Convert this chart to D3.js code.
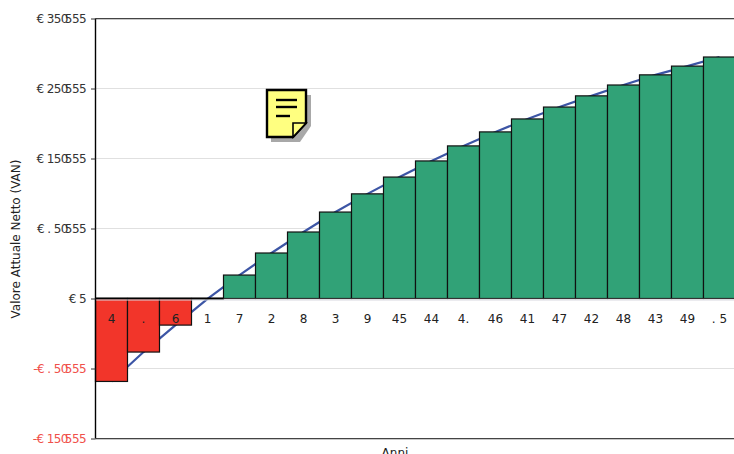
<!DOCTYPE html>
<html><head><meta charset="utf-8">
<script src="https://cdn.jsdelivr.net/npm/d3@7"></script>
<style>html,body{margin:0;background:#fff}svg{display:block}text{font-family:"DejaVu Sans",sans-serif}</style>
</head><body><svg id="c" width="734" height="454"></svg>
<script>
const categories=["4",".","6","1","7","2","8","3","9","45","44","4.","46","41","47","42","48","43","49",". 5"];
const values=[-237000,-153000,-76000,-1000,67000,130000,190000,247000,299000,347000,393000,436000,476000,513000,547000,579000,610000,639000,664000,690000];
const tickValues=[800000,600000,400000,200000,0,-200000,-400000];
const tickLabels=["€ 350555","€ 250555","€ 150555","€ . 50555","€ 5","-€ . 50555","-€ 150555"];
const yTitle="Valore Attuale Netto (VAN)";
const xTitle="Anni";

const svg=d3.select("#c");
const y=d3.scaleLinear().domain([-400000,800000]).range([438.5,18.5]);
const x=d3.scaleBand().domain(categories).range([95.5,735.5]);

const edge=v=>v===800000||v===-400000;
const grid=svg.append("g");
grid.selectAll("line.s").data(tickValues.filter(edge)).join("line").attr("class","s")
  .attr("x1",95.5).attr("x2",734).attr("y1",d=>y(d)+1).attr("y2",d=>y(d)+1)
  .attr("stroke","#c8c8c8").attr("stroke-width",1);
grid.selectAll("line.g").data(tickValues.filter(v=>v!==0)).join("line").attr("class","g")
  .attr("x1",95.5).attr("x2",734).attr("y1",y).attr("y2",y)
  .attr("stroke",d=>edge(d)?"#444":"#e0e0e0").attr("stroke-width",1);

const rows=categories.map((c,i)=>({c,v:values[i]}));
const line=d3.line().x(d=>x(d.c)+x.bandwidth()/2).y(d=>y(d.v));
svg.append("path").datum(rows)
  .attr("fill","none").attr("stroke","#3c55a5").attr("stroke-width",2.2).attr("d",line);

svg.append("g").selectAll("rect").data(rows).join("rect")
  .attr("x",d=>x(d.c)).attr("width",x.bandwidth())
  .attr("y",d=>y(Math.max(0,d.v))).attr("height",d=>Math.abs(y(d.v)-y(0)))
  .attr("fill",d=>d.v<0?"#f2352a":"#31a277").attr("stroke","#111").attr("stroke-width",1.2);

svg.append("line").attr("x1",95.5).attr("x2",223.5).attr("y1",y(0)).attr("y2",y(0)).attr("stroke","#000").attr("stroke-width",2);
svg.append("line").attr("x1",223.5).attr("x2",734).attr("y1",y(0)).attr("y2",y(0)).attr("stroke","#333").attr("stroke-width",1.2);
svg.append("line").attr("x1",95.5).attr("x2",734).attr("y1",y(0)+1.5).attr("y2",y(0)+1.5).attr("stroke","#d8d8e0").attr("stroke-width",1);

const yAxis=d3.axisLeft(y).tickValues(tickValues).tickSize(4.5).tickPadding(5).tickFormat((d,i)=>tickLabels[i]);
const ga=svg.append("g").attr("transform","translate(95.5,0)").call(yAxis);
ga.select(".domain").attr("stroke","#000").attr("stroke-width",1.4).attr("d","M0,18.5V438.5");
ga.selectAll(".tick line").attr("stroke","#333");
ga.selectAll(".tick text")
  .attr("font-size",12).style("font-family",'"DejaVu Sans",sans-serif')
  .attr("letter-spacing",-0.6).attr("fill",d=>d<0?"#f0504a":"#333")
  .attr("dx",function(d,i){
    const s=tickLabels[i];
    if(!s.endsWith("555"))return null;
    return Array.from(s,(c,k)=>k===s.length-3?-3:0).join(" ");
  });

svg.append("g").selectAll("text").data(categories).join("text")
  .attr("x",d=>x(d)+x.bandwidth()/2).attr("y",323).attr("text-anchor","middle")
  .attr("font-size",12).attr("fill","#222").text(d=>d);

svg.append("text").attr("transform","translate(20,239) rotate(-90)").attr("text-anchor","middle")
  .attr("font-size",12).attr("fill","#222").text(yTitle);
svg.append("text").attr("x",395).attr("y",457).attr("text-anchor","middle")
  .attr("font-size",12).attr("fill","#222").text(xTitle);

// note icon
const n=svg.append("g").attr("transform","translate(266,90)");
n.append("path").attr("d","M5,5H45V36L34,52H5Z").attr("fill","#a8a8a8");
n.append("path").attr("d","M1,0H40V33L27,47H1Z").attr("fill","#ffff80").attr("stroke","#000").attr("stroke-width",2.4);
n.append("path").attr("d","M27,47V33H40Z").attr("fill","#ffff80").attr("stroke","#000").attr("stroke-width",1.6);
n.selectAll("line").data([[10,31,10],[10,31,17],[10,24,26]]).join("line")
  .attr("x1",d=>d[0]).attr("x2",d=>d[1]).attr("y1",d=>d[2]).attr("y2",d=>d[2])
  .attr("stroke","#000").attr("stroke-width",2.4);
</script></body></html>
